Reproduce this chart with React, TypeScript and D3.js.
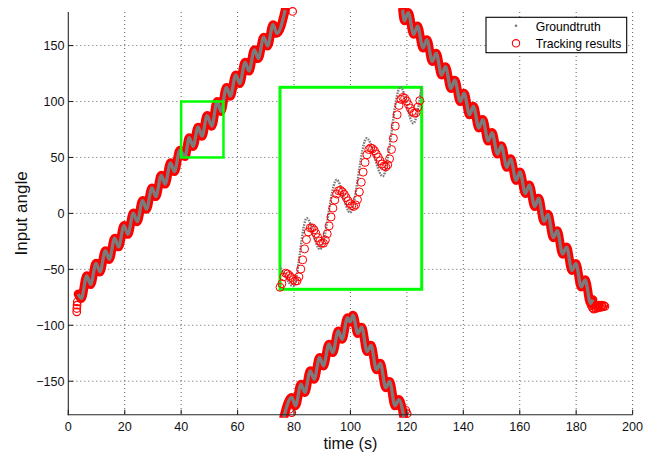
import React from 'react';
import * as d3 from 'd3';

// ---------- data ----------
const xTicks = [0, 20, 40, 60, 80, 100, 120, 140, 160, 180, 200];
const yTicks = [-150, -100, -50, 0, 50, 100, 150];

// Groundtruth, segment 1 (rising, wraps at +180): oscillation extrema
const seg1T = [3.5, 4.63, 6.53, 7.93, 9.83, 11.23, 13.13, 14.53, 16.43, 17.83, 19.73, 21.13, 23.03, 24.43, 26.33, 27.73, 29.63, 31.03, 32.93, 34.33, 36.23, 37.63, 39.53, 41.41, 42.83, 44.23, 46.0, 47.41, 49.18, 50.87, 52.75, 54.11, 56.05, 57.45, 59.35, 60.75, 62.65, 64.05, 65.95, 67.35, 69.25, 70.65, 72.55, 73.95, 76.9];
const seg1A = [-72, -76, -55.8, -63.5, -44.6, -52.3, -33.4, -41.1, -22.1, -29.9, -10.9, -18.7, 0.3, -7.4, 11.5, 3.8, 22.7, 15.0, 34.0, 26.2, 45.2, 37.4, 56.4, 50.8, 67.6, 59.9, 77.1, 69.0, 87.4, 78.0, 100.1, 91.1, 112.6, 104.8, 123.8, 116.1, 135, 127.3, 146.2, 138.5, 157.5, 149.7, 168.7, 160.9, 182];

// Groundtruth, segment 2 (rising from -180, apex near 101 s, falling to -180)
const seg2T = [76.4, 79.15, 80.55, 82.45, 83.85, 85.75, 87.15, 89.05, 90.45, 92.35, 93.75, 95.65, 97.05, 98.95, 99.9, 100.9, 102.6, 104.0, 105.9, 107.3, 109.2, 110.6, 112.5, 113.9, 115.8, 117.2, 118.9];
const seg2A = [-182, -164.5, -171.9, -152.6, -160.0, -140.7, -148.2, -128.8, -136.3, -116.9, -124.4, -105.1, -112.5, -93.2, -97, -91, -107.3, -101.7, -123.5, -117.9, -139.7, -134.0, -155.8, -150.2, -172.0, -166.4, -182];

// Groundtruth, segment 3 (falling from +180)
const seg3T = [118.5, 119.1, 120.5, 122.4, 123.8, 125.7, 127.1, 129.0, 130.4, 132.3, 133.7, 135.6, 137.0, 138.9, 140.3, 142.2, 143.6, 145.5, 146.9, 148.8, 150.2, 152.1, 153.5, 155.4, 156.8, 158.7, 160.1, 162.0, 163.4, 165.3, 166.7, 168.6, 170.0, 171.9, 173.3, 175.2, 176.6, 178.5, 179.9, 181.8, 183.2, 185.1, 185.9];
const seg3A = [182, 172.2, 179.5, 160.1, 167.4, 147.9, 155.3, 135.8, 143.2, 123.7, 131.1, 111.6, 119.1, 99.9, 107.4, 88.1, 95.7, 76.4, 83.9, 64.7, 72.2, 53.0, 60.5, 41.2, 48.8, 29.5, 37.0, 17.8, 25.3, 6.1, 13.6, -7.1, -0.8, -21.7, -15.4, -36.4, -30.1, -51.0, -44.7, -65.7, -59.4, -80.3, -77];

// Tracking results that stick out of the band in the main plot
const trackExtraT = [3.2, 3.1, 3.0, 3.0, 79.5, 78.4, 79.2, 119.6, 120.1, 185.4, 185.8, 186.2, 186.6, 187.0, 187.4, 187.8, 188.2, 188.6, 189.0, 189.4, 189.8, 190.2, 186.0, 187.0, 188.0, 189.0];
const trackExtraA = [-79, -82, -85, -88, 180.5, -175, -178, -176, -179, -82.5, -84.5, -85.5, -84, -85, -83.5, -84.5, -83, -84, -83, -83.5, -82.5, -83, -81.5, -82, -82, -82];

// Tracking results inside the zoomed window (40-55 s)
const insetT = [40.0, 40.2, 40.4, 40.6, 40.8, 41.0, 41.2, 41.4, 41.6, 41.8, 42.0, 42.2, 42.4, 42.6, 42.8, 43.0, 43.2, 43.4, 43.6, 43.8, 44.0, 44.2, 44.4, 44.6, 44.8, 45.0, 45.2, 45.4, 45.6, 45.8, 46.0, 46.2, 46.4, 46.6, 46.8, 47.0, 47.2, 47.4, 47.6, 47.8, 48.0, 48.2, 48.4, 48.6, 48.8, 49.0, 49.2, 49.4, 49.6, 49.8, 50.0, 50.2, 50.4, 50.6, 50.8, 51.0, 51.2, 51.4, 51.6, 51.8, 52.0, 52.2, 52.4, 52.6, 52.8, 53.0, 53.2, 53.4, 53.6, 53.8, 54.0, 54.2, 54.4, 54.6, 54.8];
const insetA = [50.5, 51.4, 53.1, 54.0, 53.8, 53.4, 52.9, 52.4, 52.0, 52.1, 53.1, 55.0, 57.3, 60.0, 62.3, 64.2, 65.2, 65.2, 64.7, 63.8, 62.8, 61.9, 61.4, 61.4, 62.2, 63.7, 65.7, 67.9, 70.1, 72.1, 73.6, 74.4, 74.5, 74.1, 73.5, 72.7, 71.9, 71.2, 70.7, 70.5, 70.9, 72.2, 74.1, 76.5, 79.0, 81.4, 83.3, 84.6, 85.0, 84.8, 84.3, 83.5, 82.7, 81.8, 81.0, 80.5, 80.3, 80.8, 82.3, 84.6, 87.4, 90.4, 93.2, 95.5, 97.0, 97.5, 97.3, 96.6, 95.7, 94.8, 94.0, 93.6, 93.7, 95.1, 96.7];

// zoom window
const zoomT = [40, 55];
const zoomA = [50, 100];

const legendLabels = ['Groundtruth', 'Tracking results'];

// ---------- drawing ----------
const W = 652;
const H = 453;
const FONT = '"Liberation Sans", Arial, Helvetica, sans-serif';
const RED = '#ff0000';
const GRAY = '#7b7b7b';
const GREEN = '#00ff00';

export default function App() {
  const left = 68.3, right = 632.6, top = 12, bottom = 414.8;
  const x = d3.scaleLinear().domain([0, 200]).range([left, right]);
  const y = d3.scaleLinear().domain([-180, 180]).range([bottom, top]);

  const xi = d3.scaleLinear().domain(zoomT).range([280, 421.7]);
  const yi = d3.scaleLinear().domain(zoomA).range([289.3, 87.3]);

  const segs: [number, number][][] = [
    d3.zip(seg1T, seg1A) as [number, number][],
    d3.zip(seg2T, seg2A) as [number, number][],
    d3.zip(seg3T, seg3A) as [number, number][],
  ];

  const line = d3
    .line<[number, number]>()
    .x((d) => x(d[0]))
    .y((d) => y(d[1]))
    .curve(d3.curveMonotoneX);

  const lineInset = d3
    .line<[number, number]>()
    .x((d) => xi(d[0]))
    .y((d) => yi(d[1]))
    .curve(d3.curveMonotoneX);

  const extras = d3.zip(trackExtraT, trackExtraA) as [number, number][];
  const insetPts = d3.zip(insetT, insetA) as [number, number][];

  return (
    <svg
      width={W}
      height={H}
      viewBox={`0 0 ${W} ${H}`}
      style={{ position: 'absolute', left: 0, top: 0, background: '#fff' }}
      fontFamily={FONT}
    >
      <defs>
        <clipPath id="plotClip">
          <rect x={left} y={top - 4} width={right - left} height={bottom - top + 7} />
        </clipPath>
        <clipPath id="insetClip">
          <rect x={xi(zoomT[0])} y={yi(zoomA[1]) - 1} width={xi(zoomT[1]) - xi(zoomT[0])} height={yi(zoomA[0]) - yi(zoomA[1]) + 2} />
        </clipPath>
      </defs>
      <rect x={0} y={0} width={W} height={H} fill="#fff" />

      {/* grid */}
      <g stroke="#3a3a3a" strokeWidth={0.8} strokeDasharray="1 3">
        {xTicks.filter((t) => t !== 0).map((t) => (
          <line key={'gx' + t} x1={x(t)} x2={x(t)} y1={top} y2={bottom} />
        ))}
        {yTicks.map((t) => (
          <line key={'gy' + t} x1={left} x2={right} y1={y(t)} y2={y(t)} />
        ))}
      </g>

      {/* tracking band + groundtruth */}
      <g clipPath="url(#plotClip)">
        {segs.map((s, i) => (
          <path key={'band' + i} d={line(s) || ''} fill="none" stroke={RED} strokeWidth={9} strokeLinejoin="round" strokeLinecap="round" />
        ))}
      </g>
      {extras.map((d, i) => (
        <circle key={'ex' + i} cx={x(d[0])} cy={y(d[1])} r={3.8} fill="none" stroke={RED} strokeWidth={1.2} />
      ))}
      <g clipPath="url(#plotClip)">
        {segs.map((s, i) => (
          <path key={'gt' + i} d={line(s) || ''} fill="none" stroke={GRAY} strokeWidth={3.3} strokeLinejoin="round" />
        ))}
      </g>

      {/* zoom window marker */}
      <rect
        x={x(zoomT[0])}
        y={y(zoomA[1])}
        width={x(zoomT[1]) - x(zoomT[0])}
        height={y(zoomA[0]) - y(zoomA[1])}
        fill="none"
        stroke={GREEN}
        strokeWidth={2.5}
      />

      {/* inset */}
      <rect
        x={xi(zoomT[0])}
        y={yi(zoomA[1])}
        width={xi(zoomT[1]) - xi(zoomT[0])}
        height={yi(zoomA[0]) - yi(zoomA[1])}
        fill="#fff"
        stroke={GREEN}
        strokeWidth={3}
      />
      <g clipPath="url(#insetClip)">
        <path d={lineInset(segs[0]) || ''} fill="none" stroke={GRAY} strokeWidth={2.4} strokeDasharray="1.6 1.1" />
      </g>
      {insetPts.map((d, i) => (
        <circle key={'in' + i} cx={xi(d[0])} cy={yi(d[1])} r={4} fill="none" stroke={RED} strokeWidth={1} />
      ))}

      {/* axes */}
      <g stroke="#262626" strokeWidth={1.1} fill="none">
        <line x1={left} x2={left} y1={top} y2={bottom + 0.5} />
        <line x1={left - 0.5} x2={right} y1={bottom} y2={bottom} />
        {xTicks.map((t) => (
          <line key={'tx' + t} x1={x(t)} x2={x(t)} y1={bottom} y2={bottom - 5} />
        ))}
        {yTicks.map((t) => (
          <line key={'ty' + t} x1={left} x2={left + 5} y1={y(t)} y2={y(t)} />
        ))}
      </g>
      <g fontSize={12.6} fill="#111">
        {xTicks.map((t) => (
          <text key={'lx' + t} x={x(t)} y={431} textAnchor="middle">
            {String(t)}
          </text>
        ))}
        {yTicks.map((t) => (
          <text key={'ly' + t} x={64.5} y={y(t) + 4.5} textAnchor="end">
            {t < 0 ? '\u2212' + Math.abs(t) : String(t)}
          </text>
        ))}
      </g>
      <text x={(left + right) / 2} y={448.5} textAnchor="middle" fontSize={16.2} fill="#111">
        time (s)
      </text>
      <text transform={`translate(26.5, ${(top + bottom) / 2}) rotate(-90)`} textAnchor="middle" fontSize={17} fill="#111">
        Input angle
      </text>

      {/* legend */}
      <rect x={486} y={17.3} width={140.7} height={35.4} fill="#fff" stroke="#000" strokeWidth={1.1} />
      <circle cx={516} cy={25.7} r={1.3} fill={GRAY} />
      <circle cx={516} cy={43.3} r={3.7} fill="none" stroke={RED} strokeWidth={1.1} />
      <text x={535.7} y={30.6} fontSize={12.2} fill="#000">
        {legendLabels[0]}
      </text>
      <text x={535.7} y={47.6} fontSize={12.2} fill="#000">
        {legendLabels[1]}
      </text>
    </svg>
  );
}
